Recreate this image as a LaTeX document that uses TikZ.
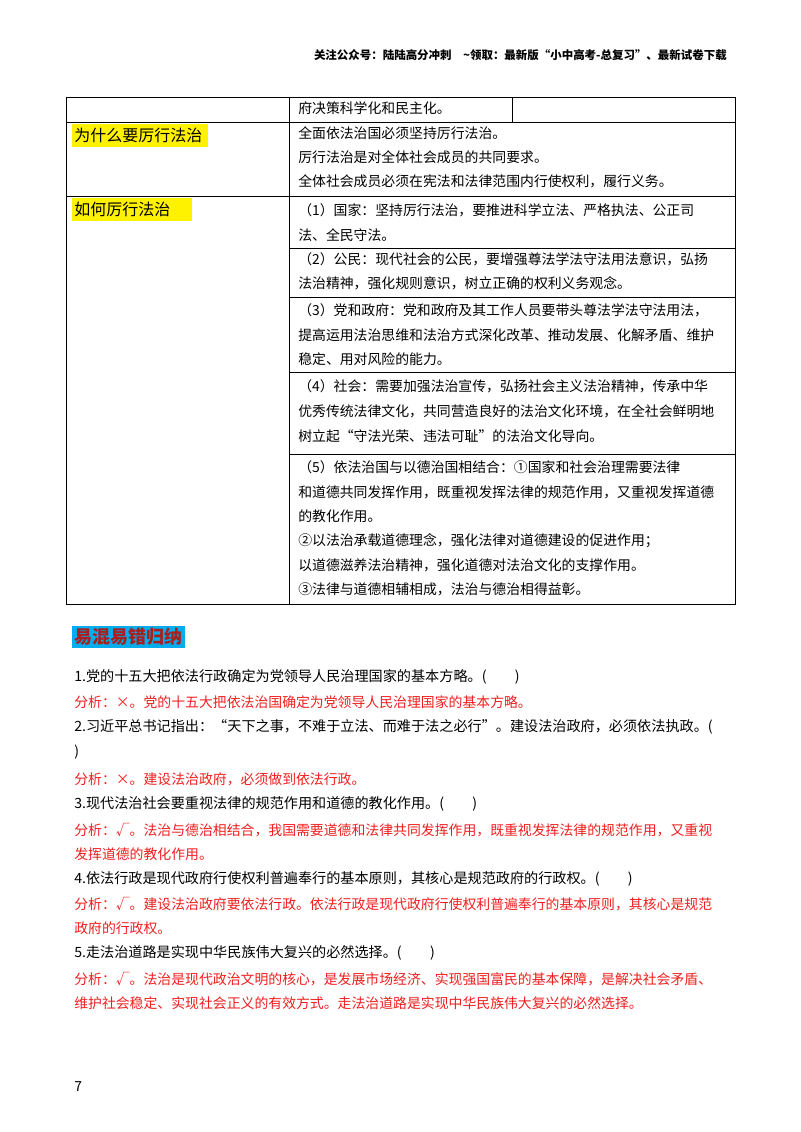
\documentclass[tikz,border=0pt]{standalone}
\usepackage{fontspec}
\setmainfont{Noto Sans CJK SC}
\begin{document}
\begin{tikzpicture}[x=0.75pt,y=-0.75pt,
 t/.style={anchor=west,inner sep=0pt,font=\fontsize{10.4}{12}\selectfont},
 r/.style={t,text={rgb,255:red,240;green,30;blue,30}},
 b/.style={t,font=\fontsize{10.6}{12}\selectfont}]
\useasboundingbox (0,0) rectangle (800,1132);
\node[anchor=east,inner sep=0pt,font=\fontsize{8.6}{10}\selectfont\bfseries] (hd) at (727,55) {关注公众号：陆陆高分冲刺\quad \~{}领取：最新版“小中高考-总复习”、最新试卷下载};
% table
\draw[line width=0.7pt] (66,97) rectangle (735,604);
\draw[line width=0.7pt] (289,97) -- (289,604);
\draw[line width=0.7pt] (512,97) -- (512,122);
\draw[line width=0.7pt] (66,122) -- (735,122) (66,196) -- (735,196);
\foreach \y in {248,297,372,454} \draw[line width=0.7pt] (289,\y) -- (735,\y);
\fill[yellow] (72,124) rectangle (208,147);
\fill[yellow] (72,198) rectangle (192,221);
\node[t,font=\fontsize{12}{14}\selectfont] (w) at (74,135) {为什么要厉行法治};
\node[t,font=\fontsize{12}{14}\selectfont] (h) at (74,209) {如何厉行法治};
\node[t] at (298,108) {府决策科学化和民主化。};
\node[t] at (298,133) {全面依法治国必须坚持厉行法治。};
\node[t] at (298,157) {厉行法治是对全体社会成员的共同要求。};
\node[t] at (298,181) {全体社会成员必须在宪法和法律范围内行使权利，履行义务。};
\node[t] at (298,210) {（1）国家：坚持厉行法治，要推进科学立法、严格执法、公正司};
\node[t] at (298,235) {法、全民守法。};
\node[t] at (298,259) {（2）公民：现代社会的公民，要增强尊法学法守法用法意识，弘扬};
\node[t] at (298,283) {法治精神，强化规则意识，树立正确的权利义务观念。};
\node[t] at (298,310) {（3）党和政府：党和政府及其工作人员要带头尊法学法守法用法，};
\node[t] at (298,335) {提高运用法治思维和法治方式深化改革、推动发展、化解矛盾、维护};
\node[t] at (298,359) {稳定、用对风险的能力。};
\node[t] at (298,386) {（4）社会：需要加强法治宣传，弘扬社会主义法治精神，传承中华};
\node[t] at (298,411) {优秀传统法律文化，共同营造良好的法治文化环境，在全社会鲜明地};
\node[t] at (298,436) {树立起“守法光荣、违法可耻”的法治文化导向。};
\node[t] at (298,467) {（5）依法治国与以德治国相结合：①国家和社会治理需要法律};
\node[t] at (298,492) {和道德共同发挥作用，既重视发挥法律的规范作用，又重视发挥道德};
\node[t] at (298,516) {的教化作用。};
\node[t] at (298,541) {②以法治承载道德理念，强化法律对道德建设的促进作用；};
\node[t] at (298,565) {以道德滋养法治精神，强化道德对法治文化的支撑作用。};
\node[t] at (298,589) {③法律与道德相辅相成，法治与德治相得益彰。};
% section
\fill[cyan] (72,626) rectangle (185,648);
\node[t,font=\fontsize{13.5}{15}\selectfont\bfseries,text={rgb,255:red,170;green,30;blue,30}] (s) at (74,637) {易混易错归纳};
\node[b] at (74,677) {1.党的十五大把依法行政确定为党领导人民治理国家的基本方略。(\qquad)};
\node[r] at (74,702) {分析：×。党的十五大把依法治国确定为党领导人民治理国家的基本方略。};
\node[b] at (74,727) {2.习近平总书记指出：“天下之事，不难于立法、而难于法之必行”。建设法治政府，必须依法执政。(};
\node[b] at (74,752) {)};
\node[r] at (74,779) {分析：×。建设法治政府，必须做到依法行政。};
\node[b] at (74,804) {3.现代法治社会要重视法律的规范作用和道德的教化作用。(\qquad)};
\node[r] at (74,830) {分析：√。法治与德治相结合，我国需要道德和法律共同发挥作用，既重视发挥法律的规范作用，又重视};
\node[r] at (74,854) {发挥道德的教化作用。};
\node[b] at (74,879) {4.依法行政是现代政府行使权利普遍奉行的基本原则，其核心是规范政府的行政权。(\qquad)};
\node[r] at (74,904) {分析：√。建设法治政府要依法行政。依法行政是现代政府行使权利普遍奉行的基本原则，其核心是规范};
\node[r] at (74,928) {政府的行政权。};
\node[b] at (74,953) {5.走法治道路是实现中华民族伟大复兴的必然选择。(\qquad)};
\node[r] at (74,979) {分析：√。法治是现代政治文明的核心，是发展市场经济、实现强国富民的基本保障，是解决社会矛盾、};
\node[r] at (74,1003) {维护社会稳定、实现社会正义的有效方式。走法治道路是实现中华民族伟大复兴的必然选择。};
\node[t] (pg) at (74,1087) {7};
\end{tikzpicture}
\end{document}
